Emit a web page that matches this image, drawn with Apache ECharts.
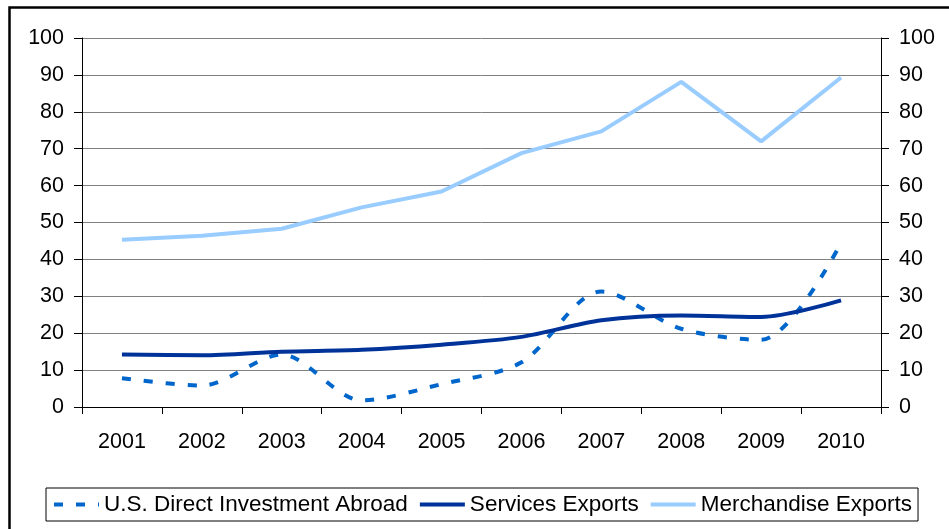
<!DOCTYPE html>
<html>
<head>
<meta charset="utf-8">
<script src="https://cdn.jsdelivr.net/npm/echarts@6/dist/echarts.min.js"></script>
<style>
  html, body { margin: 0; padding: 0; background: #fff; }
  #chart { width: 949px; height: 529px; }
</style>
</head>
<body>
<div id="chart"></div>
<script>
/* datos */
var years = ['2001', '2002', '2003', '2004', '2005', '2006', '2007', '2008', '2009', '2010'];
var directInvestment = [7.8, 5.8, 14.2, 1.8, 6.2, 12.1, 31.3, 21.2, 18.2, 44.5];
var servicesExports = [14.2, 14.0, 15.0, 15.5, 16.9, 19.0, 23.5, 24.8, 24.4, 28.9];
var merchandiseExports = [45.3, 46.4, 48.3, 54.1, 58.4, 68.8, 74.7, 88.1, 72.0, 89.3];
var seriesNames = ['U.S. Direct Investment Abroad', 'Services Exports', 'Merchandise Exports'];

var dom = document.getElementById('chart');
var myChart = echarts.init(dom);
var font = 'Liberation Sans, Arial, sans-serif';

var yAxisBase = function (pos) {
    return {
        type: 'value',
        position: pos,
        min: 0,
        max: 100,
        interval: 10,
        axisLine: { show: true, lineStyle: { color: '#000', width: 1 } },
        axisTick: { show: true, length: 8, lineStyle: { color: '#000' } },
        axisLabel: { color: '#000', fontSize: 21.5, fontFamily: font, margin: 18 },
        splitLine: { show: pos === 'left', lineStyle: { color: '#808080', width: 1 } }
    };
};

var option = {
    animation: false,
    backgroundColor: '#fff',
    graphic: [{
        type: 'rect',
        shape: { x: 9.5, y: 7.5, width: 1200, height: 800 },
        style: { fill: 'none', stroke: '#000', lineWidth: 2.5 },
        silent: true
    }],
    grid: {
        left: 82,
        right: 68,
        top: 38,
        height: 369
    },
    legend: {
        data: seriesNames,
        left: 46,
        top: 488,
        orient: 'horizontal',
        padding: [5, 6, 5, 6],
        borderColor: '#000',
        borderWidth: 1,
        itemWidth: 45,
        itemHeight: 22,
        itemGap: 10,
        itemStyle: { opacity: 0 },
        lineStyle: { width: 4 },
        textStyle: { color: '#000', fontSize: 22.5, fontFamily: font }
    },
    xAxis: {
        type: 'category',
        data: years,
        boundaryGap: true,
        axisLine: { lineStyle: { color: '#000', width: 1 } },
        axisTick: { show: true, interval: 0, length: 7, lineStyle: { color: '#000' } },
        axisLabel: { color: '#000', fontSize: 21.5, fontFamily: font, margin: 24, interval: 0 }
    },
    yAxis: [yAxisBase('left'), yAxisBase('right')],
    series: [{
        name: seriesNames[0],
        type: 'line',
        data: directInvestment,
        smooth: 0.3,
        symbol: 'none',
        color: '#0066CC',
        lineStyle: { color: '#0066CC', width: 4, type: [9, 13] }
    }, {
        name: seriesNames[1],
        type: 'line',
        data: servicesExports,
        smooth: 0.3,
        symbol: 'none',
        color: '#003399',
        lineStyle: { color: '#003399', width: 4 }
    }, {
        name: seriesNames[2],
        type: 'line',
        data: merchandiseExports,
        symbol: 'none',
        color: '#99CCFF',
        lineStyle: { color: '#99CCFF', width: 4 }
    }]
};
myChart.setOption(option);
</script>
</body>
</html>
